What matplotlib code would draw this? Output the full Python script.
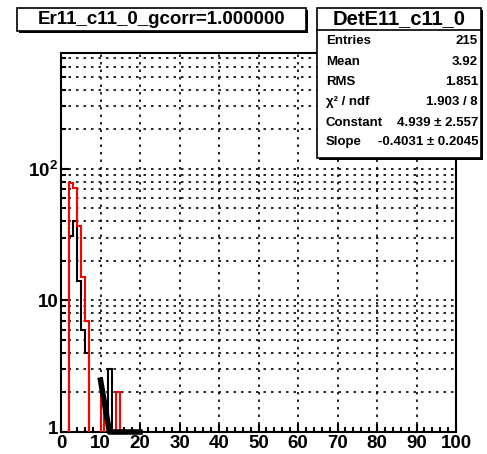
import numpy as np
import matplotlib
matplotlib.use("Agg")
import matplotlib.pyplot as plt
from matplotlib.patches import Rectangle
from matplotlib.lines import Line2D
from matplotlib.transforms import ScaledTranslation

# histogram contents (bin low edge -> counts), bins of width 1 on [0, 100]
red_bins = [2, 3, 4, 5, 6, 10, 14]
red_counts = [78, 72, 37, 15, 7, 2, 2]
black_bins = [2, 3, 4, 5, 6, 12]
black_counts = [31, 40, 14, 6, 4, 3]

# exponential fit shown in the stats box
fit_const = 4.939
fit_slope = -0.4031
fit_range = (10, 20)

title = "Er11_c11_0_gcorr=1.000000"
stats_title = "DetE11_c11_0"
stats_labels = ["Entries", "Mean", "RMS", "χ² / ndf", "Constant", "Slope"]
stats_values = ["215", "3.92", "1.851", "1.903 / 8", "4.939 ± 2.557", "-0.4031 ± 0.2045"]

x_ticks = list(range(0, 101, 10))
y_ticks = [1, 10, 100]
y_tick_labels = ["1", "10", r"$\mathbf{10^{2}}$"]

plt.rcParams["font.family"] = ["Liberation Sans", "DejaVu Sans"]
plt.rcParams["font.weight"] = "bold"
plt.rcParams["mathtext.fontset"] = "custom"
plt.rcParams["mathtext.bf"] = "Liberation Sans:bold"
plt.rcParams["mathtext.rm"] = "Liberation Sans:bold"

W, H = 487, 454
fig = plt.figure(figsize=(W / 100, H / 100), dpi=100)


def fx(px):
    return px / W


def fy(py):
    return 1 - py / H


ax = fig.add_axes([fx(61), fy(432), fx(456) - fx(61), fy(53) - fy(432)])
ax.set_yscale("log")
ax.set_xlim(0, 100)
ax.set_ylim(1, 760)

edges = np.arange(0, 101)


def full_hist(bins, counts):
    h = np.zeros(100)
    for b, c in zip(bins, counts):
        h[b] = c
    return np.where(h > 0, h, 0.1)


ax.stairs(full_hist(black_bins, black_counts), edges, baseline=0.1,
          color="black", lw=1.5, zorder=3)
ax.stairs(full_hist(red_bins, red_counts), edges, baseline=0.1,
          color="red", lw=1.5, zorder=4)

xf = np.linspace(fit_range[0], fit_range[1], 200)
yf = np.maximum(np.exp(fit_const + fit_slope * xf), 1.0)
ax.plot(xf, yf, color="black", lw=4, zorder=5, clip_on=False)

# ticks and grid
ax.set_xticks(x_ticks)
ax.set_xticks(np.arange(0, 101, 2), minor=True)
ax.set_yticks(y_ticks)
ax.set_yticklabels(y_tick_labels)
ax.set_xticklabels([str(t) for t in x_ticks])
minor_y = [m * d for d in (1, 10, 100) for m in range(2, 10) if m * d < 760]
ax.set_yticks(minor_y, minor=True)
ax.yaxis.set_minor_formatter(plt.NullFormatter())
ax.tick_params(which="both", direction="in", top=False, right=False,
               labelsize=13.5, width=1.5)
ax.tick_params(which="major", length=6, pad=2)
ax.tick_params(which="minor", length=3.5)
for lab in ax.get_xticklabels() + ax.get_yticklabels():
    lab.set_fontweight("bold")

# nudge the "1" label up so it sits above the "0" as in the original
one = ax.get_yticklabels()[0]
one.set_transform(one.get_transform() + ScaledTranslation(0, 5 / 100, fig.dpi_scale_trans))

grid_style = dict(color="black", lw=1.2, ls=(0, (1.5, 3)), zorder=1)
for t in x_ticks[1:-1]:
    ax.axvline(t, **grid_style)
for t in [10, 100] + minor_y:
    ax.axhline(t, **grid_style)

for s in ax.spines.values():
    s.set_linewidth(1.5)


def box(x0, y0, x1, y1, shadow=2):
    if shadow:
        fig.patches.append(Rectangle((fx(x0 + shadow), fy(y1 + shadow)),
                                     fx(x1) - fx(x0), fy(y0) - fy(y1),
                                     transform=fig.transFigure, facecolor="black",
                                     edgecolor="black", lw=0, zorder=5))
    fig.patches.append(Rectangle((fx(x0), fy(y1)), fx(x1) - fx(x0), fy(y0) - fy(y1),
                                 transform=fig.transFigure, facecolor="white",
                                 edgecolor="black", lw=1.2, zorder=6))


# title box
box(17, 8, 306, 31)
fig.text(fx(162), fy(20), title, ha="center", va="center", fontsize=13.5,
         fontweight="bold", zorder=10)

# stats box
box(317, 8, 481, 158)
fig.lines.append(Line2D([fx(317), fx(481)], [fy(30), fy(30)],
                        transform=fig.transFigure, color="black", lw=1.2, zorder=7))
fig.text(fx(399), fy(19), stats_title, ha="center", va="center", fontsize=14.5,
         fontweight="bold", zorder=10)
row_y = [41, 62, 82, 102, 123, 142]
for yy, lab, val in zip(row_y, stats_labels, stats_values):
    fig.text(fx(326), fy(yy), lab, ha="left", va="center", fontsize=9.5,
             fontweight="bold", zorder=10)
    fig.text(fx(478), fy(yy), val, ha="right", va="center", fontsize=9.5,
             fontweight="bold", zorder=10)

fig.savefig("out.png", dpi=100)
